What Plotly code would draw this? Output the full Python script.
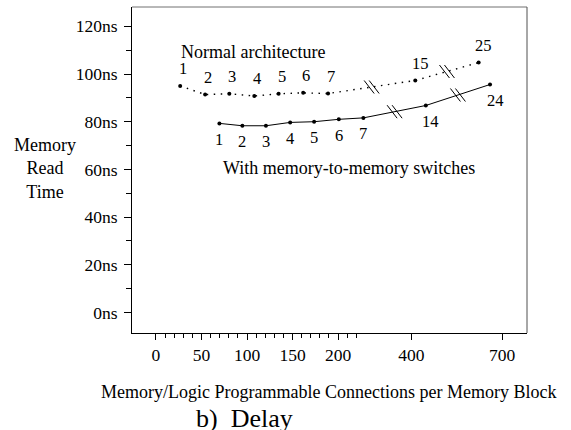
import plotly.graph_objects as go

# ---- data (x in broken-axis position units, y in ns) ----
normal_x = [26.6, 54.0, 80.6, 108.0, 134.7, 161.7, 189.0, 284.8, 354.4]
normal_y = [95.0, 91.4, 91.7, 90.8, 91.7, 92.1, 91.8, 97.3, 104.8]
normal_labels = ["1", "2", "3", "4", "5", "6", "7", "15", "25"]

switch_x = [69.7, 94.9, 120.8, 147.4, 173.7, 200.8, 227.8, 296.4, 366.9]
switch_y = [79.3, 78.3, 78.3, 79.7, 80.0, 81.0, 81.6, 86.8, 95.6]
switch_labels = ["1", "2", "3", "4", "5", "6", "7", "14", "24"]

break_segments = [(6, 7), (7, 8)]

x_tick_pos = [0, 50, 100, 150, 200, 280.4, 380.1]
x_tick_text = ["0", "50", "100", "150", "200", "400", "700"]
x_minor_pos = [v for v in range(10, 230, 10) if v % 50 != 0]

y_tick_vals = [0, 20, 40, 60, 80, 100, 120]
y_tick_text = ["0ns", "20ns", "40ns", "60ns", "80ns", "100ns", "120ns"]
y_minor_vals = [10, 30, 50, 70, 90, 110]

X_RANGE = [-26.3, 407.5]
Y_RANGE = [-8.6, 128.1]

W, H = 571, 430
ML, MR, MT, MB = 132, 44, 7, 97
PW, PH = W - ML - MR, H - MT - MB
SX = PW / (X_RANGE[1] - X_RANGE[0])   # px per x unit
SY = PH / (Y_RANGE[1] - Y_RANGE[0])   # px per y unit

FONT = "'Liberation Serif', 'Times New Roman', Times, serif"

def break_marks(xs, ys):
    bx, by = [], []
    for i, j in break_segments:
        mx = (xs[i] + xs[j]) / 2
        my = (ys[i] + ys[j]) / 2
        for off in (-2.5, 2.5):
            bx += [mx + (off - 5) / SX, mx + (off + 5) / SX, None]
            by += [my + 6.5 / SY, my - 6.5 / SY, None]
    return bx, by

fig = go.Figure()

fig.add_trace(go.Scatter(
    x=normal_x, y=normal_y, mode="lines+markers",
    line=dict(color="black", width=1.4, dash="1.5px,5.5px"),
    marker=dict(color="black", size=4),
    showlegend=False, hoverinfo="skip"))

fig.add_trace(go.Scatter(
    x=switch_x, y=switch_y, mode="lines+markers",
    line=dict(color="black", width=1),
    marker=dict(color="black", size=4),
    showlegend=False, hoverinfo="skip"))

for xs, ys in ((normal_x, normal_y), (switch_x, switch_y)):
    bx, by = break_marks(xs, ys)
    fig.add_trace(go.Scatter(x=bx, y=by, mode="lines",
                             line=dict(color="black", width=1),
                             showlegend=False, hoverinfo="skip"))

annotations = []
for x, y, t in zip(normal_x, normal_y, normal_labels):
    annotations.append(dict(x=x, y=y, text=t, showarrow=False, yshift=17,
                            xshift=5 if len(t) > 1 else 3,
                            xanchor="center", yanchor="middle",
                            font=dict(family=FONT, size=16.5, color="black")))
for x, y, t in zip(switch_x, switch_y, switch_labels):
    annotations.append(dict(x=x, y=y, text=t, showarrow=False, yshift=-16,
                            xshift=5 if len(t) > 1 else 0,
                            xanchor="center", yanchor="middle",
                            font=dict(family=FONT, size=16.5, color="black")))

annotations += [
    dict(x=106.9, y=109.3, text="Normal architecture", showarrow=False,
         xanchor="center", yanchor="middle",
         font=dict(family=FONT, size=18, color="black")),
    dict(x=211.9, y=60.4, text="With memory-to-memory switches", showarrow=False,
         xanchor="center", yanchor="middle",
         font=dict(family=FONT, size=18, color="black")),
    dict(xref="paper", yref="paper", x=-0.219, y=0.5046,
         xanchor="center", yanchor="middle",
         text="Memory<br>Read<br>Time", showarrow=False, align="center",
         font=dict(family=FONT, size=18, color="black")),
    dict(xref="paper", yref="paper", x=0.498, y=-0.18,
         xanchor="center", yanchor="middle",
         text="Memory/Logic Programmable Connections per Memory Block",
         showarrow=False, font=dict(family=FONT, size=18, color="black")),
    dict(xref="paper", yref="paper", x=0.286, y=-0.262,
         xanchor="center", yanchor="middle",
         text="b)  Delay", showarrow=False,
         font=dict(family=FONT, size=26, color="black")),
]

fig.update_layout(
    width=W, height=H, autosize=False,
    margin=dict(l=ML, r=MR, t=MT, b=MB, pad=0),
    paper_bgcolor="white", plot_bgcolor="white",
    font=dict(family=FONT, size=17.5, color="black"),
    annotations=annotations,
    shapes=[
        dict(type="line", xref="paper", yref="paper", x0=0, x1=1, y0=1, y1=1,
             line=dict(color="#707070", width=1)),
        dict(type="line", xref="paper", yref="paper", x0=1, x1=1, y0=0, y1=1,
             line=dict(color="#505050", width=1)),
    ],
    xaxis=dict(range=X_RANGE, showgrid=False, zeroline=False,
               showline=True, linecolor="black", linewidth=1,
               tickmode="array", tickvals=x_tick_pos, ticktext=x_tick_text,
               ticks="outside", ticklen=6, tickcolor="black", tickwidth=1,
               tickfont=dict(family=FONT, size=17.5, color="black"),
               minor=dict(tickmode="array", tickvals=x_minor_pos, ticks="outside",
                          ticklen=3.5, tickcolor="black", tickwidth=1, showgrid=False)),
    yaxis=dict(range=Y_RANGE, showgrid=False, zeroline=False,
               showline=True, linecolor="black", linewidth=1,
               tickmode="array", tickvals=y_tick_vals, ticktext=y_tick_text,
               ticks="outside", ticklen=7, tickcolor="black", tickwidth=1,
               tickfont=dict(family=FONT, size=17.5, color="black"),
               ticklabelstandoff=3,
               minor=dict(tickmode="array", tickvals=y_minor_vals, ticks="outside",
                          ticklen=5, tickcolor="black", tickwidth=1, showgrid=False)),
)

fig.write_html("out.html", config={"displayModeBar": False},
               post_script="document.body.style.margin='0';document.body.style.overflow='hidden';")
